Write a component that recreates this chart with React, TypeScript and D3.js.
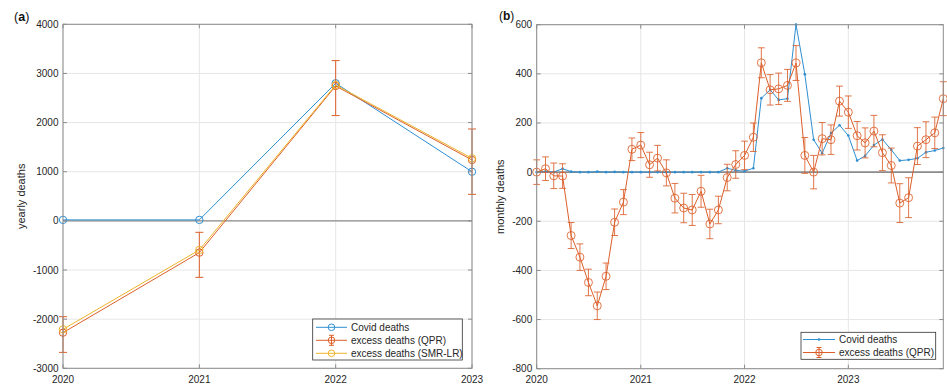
import * as d3 from 'd3'

// yearly values (panel a)
const years = [2020, 2021, 2022, 2023]
const covidYearly = [20, 20, 2800, 1000]
const qprYearly = [-2275, -646, 2745, 1239]
const qprYearlyLow = [-2676, -1149, 2142, 540]
const qprYearlyHigh = [-1950, -233, 3261, 1870]
const smrYearly = [-2207, -592, 2765, 1273]

// monthly values (panel b), Jan 2020 .. Dec 2023
const covidMonthly = [
  0, 3, 0, 14, 2, 0, 0, 2, 0, 1, 0, 0,
  0, 0, 0, 0, 0, 0, 0, 0, 0, 0, 16, 7,
  4, 16, 301, 335, 294, 299, 601, 398, 132, 77, 159, 191,
  149, 47, 66, 110, 133, 91, 47, 50, 56, 81, 88, 98,
]
const qprMonthly = [
  0, 14, -15, -16, -258, -346, -449, -544, -424, -204, -122, 93,
  110, 30, 57, -3, -106, -146, -154, -78, -211, -154, -22, 31,
  68, 142, 445, 335, 339, 353, 444, 68, 0, 136, 132, 289,
  244, 148, 119, 167, 79, 27, -126, -104, 106, 132, 160, 299,
]
const qprMonthlyErr = [
  50, 48, 52, 50, 53, 54, 54, 56, 54, 54, 51, 46,
  51, 51, 52, 53, 60, 60, 63, 65, 60, 56, 54, 56,
  58, 58, 61, 62, 64, 65, 71, 73, 68, 66, 60, 61,
  66, 58, 61, 64, 73, 71, 79, 81, 75, 73, 64, 69,
]
const months = d3.range(qprMonthly.length).map((i) => new Date(2020, i, 1))

const yearTicks = [2020, 2021, 2022, 2023]
const yearlyTicks = d3.range(-3000, 4001, 1000)
const monthlyTicks = d3.range(-800, 601, 200)

const BLUE = '#2f8fd2'
const ORANGE = '#dc5f2a'
const YELLOW = '#eeb42a'
const AXIS = '#8c8c8c'
const TEXT = '#262626'
const GRID = '#e6e6e6'
const FONT = 'Arial, "Liberation Sans", Helvetica, sans-serif'

type Box = { x0: number; x1: number; y0: number; y1: number }

const Grid = ({ b, yScale, yt, xs }: { b: Box; yScale: d3.ScaleLinear<number, number>; yt: number[]; xs: number[] }) => (
  <g>
    {xs.map((x, i) => (
      <line key={'gx' + i} x1={x} x2={x} y1={b.y0} y2={b.y1} stroke={GRID} />
    ))}
    {yt.map((t) => (
      <line key={'gy' + t} x1={b.x0} x2={b.x1} y1={yScale(t)} y2={yScale(t)} stroke={GRID} />
    ))}
  </g>
)

const Axes = ({ b, yScale, yt, xs, labels }: { b: Box; yScale: d3.ScaleLinear<number, number>; yt: number[]; xs: number[]; labels: string[] }) => (
  <g fontFamily={FONT} fontSize={10} fill={TEXT}>
    <rect x={b.x0} y={b.y0} width={b.x1 - b.x0} height={b.y1 - b.y0} fill="none" stroke={AXIS} />
    {yt.map((t) => (
      <g key={'ty' + t}>
        <line x1={b.x0} x2={b.x0 + 4} y1={yScale(t)} y2={yScale(t)} stroke={AXIS} />
        <line x1={b.x1} x2={b.x1 - 4} y1={yScale(t)} y2={yScale(t)} stroke={AXIS} />
        <text x={b.x0 - 4.5} y={yScale(t)} dy="0.35em" textAnchor="end">
          {t}
        </text>
      </g>
    ))}
    {xs.map((x, i) => (
      <g key={'tx' + i}>
        <line x1={x} x2={x} y1={b.y1} y2={b.y1 - 4} stroke={AXIS} />
        <line x1={x} x2={x} y1={b.y0} y2={b.y0 + 4} stroke={AXIS} />
        <text x={x} y={383} textAnchor="middle">
          {labels[i]}
        </text>
      </g>
    ))}
  </g>
)

const PanelA = () => {
  const b: Box = { x0: 63, x1: 472, y0: 24.3, y1: 368.3 }
  const x = d3.scaleLinear().domain([2020, 2023]).range([b.x0, b.x1])
  const y = d3.scaleLinear().domain([-3000, 4000]).range([b.y1, b.y0])
  const line = d3
    .line<number>()
    .x((_, i) => x(years[i]))
    .y((d) => y(d))
  const xs = yearTicks.map((t) => x(t))
  const leg = { x: 312.7, y: 319, w: 149.6, h: 41 }
  const midY = (b.y0 + b.y1) / 2
  return (
    <g>
      <Grid b={b} yScale={y} yt={yearlyTicks} xs={xs} />
      <line x1={b.x0} x2={b.x1} y1={y(0)} y2={y(0)} stroke={AXIS} strokeWidth={1.2} />
      <path d={line(covidYearly) ?? ''} fill="none" stroke={BLUE} strokeWidth={1} />
      {covidYearly.map((v, i) => (
        <circle key={'c' + i} cx={x(years[i])} cy={y(v)} r={3.7} fill="none" stroke={BLUE} />
      ))}
      <path d={line(qprYearly) ?? ''} fill="none" stroke={ORANGE} strokeWidth={1} />
      {qprYearly.map((v, i) => {
        const cx = x(years[i])
        return (
          <g key={'q' + i} stroke={ORANGE} fill="none">
            <line x1={cx} x2={cx} y1={y(qprYearlyLow[i])} y2={y(qprYearlyHigh[i])} />
            <line x1={cx - 4} x2={cx + 4} y1={y(qprYearlyLow[i])} y2={y(qprYearlyLow[i])} />
            <line x1={cx - 4} x2={cx + 4} y1={y(qprYearlyHigh[i])} y2={y(qprYearlyHigh[i])} />
            <circle cx={cx} cy={y(v)} r={3.7} />
          </g>
        )
      })}
      <path d={line(smrYearly) ?? ''} fill="none" stroke={YELLOW} strokeWidth={1} />
      {smrYearly.map((v, i) => (
        <circle key={'s' + i} cx={x(years[i])} cy={y(v)} r={3.7} fill="none" stroke={YELLOW} />
      ))}
      <Axes b={b} yScale={y} yt={yearlyTicks} xs={xs} labels={yearTicks.map(String)} />
      <text x={25} y={midY} transform={`rotate(-90 25 ${midY})`} textAnchor="middle" fontFamily={FONT} fontSize={11} fill={TEXT}>
        yearly deaths
      </text>
      <text x={14} y={21} fontFamily={FONT} fontSize={12.5} fill="#111">
        (<tspan fontWeight="bold">a</tspan>)
      </text>
      <g fontFamily={FONT} fontSize={10} fill={TEXT}>
        <rect x={leg.x} y={leg.y} width={leg.w} height={leg.h} fill="#fff" stroke="#303030" strokeWidth={0.8} />
        {[
          { c: BLUE, t: 'Covid deaths', err: false },
          { c: ORANGE, t: 'excess deaths (QPR)', err: true },
          { c: YELLOW, t: 'excess deaths (SMR-LR)', err: false },
        ].map((e, i) => {
          const ly = leg.y + 8.3 + i * 13
          return (
            <g key={e.t}>
              <line x1={316} x2={347} y1={ly} y2={ly} stroke={e.c} />
              <circle cx={331.5} cy={ly} r={3.3} fill="none" stroke={e.c} />
              {e.err && (
                <g stroke={e.c}>
                  <line x1={331.5} x2={331.5} y1={ly - 5} y2={ly + 5} />
                  <line x1={329} x2={334} y1={ly - 5} y2={ly - 5} />
                  <line x1={329} x2={334} y1={ly + 5} y2={ly + 5} />
                </g>
              )}
              <text x={351} y={ly} dy="0.35em">
                {e.t}
              </text>
            </g>
          )
        })}
      </g>
    </g>
  )
}

const PanelB = () => {
  const b: Box = { x0: 536.7, x1: 943.3, y0: 24.7, y1: 368.7 }
  const x = d3.scaleTime().domain([months[0], months[months.length - 1]]).range([b.x0, b.x1])
  const y = d3.scaleLinear().domain([-800, 600]).range([b.y1, b.y0])
  const line = d3
    .line<number>()
    .x((_, i) => x(months[i]))
    .y((d) => y(d))
  const xs = yearTicks.map((t) => x(new Date(t, 0, 1)))
  const leg = { x: 801, y: 332.3, w: 134.7, h: 27 }
  const midY = (b.y0 + b.y1) / 2
  return (
    <g>
      <Grid b={b} yScale={y} yt={monthlyTicks} xs={xs} />
      <line x1={b.x0} x2={b.x1} y1={y(0)} y2={y(0)} stroke={AXIS} strokeWidth={1.6} />
      <path d={line(covidMonthly) ?? ''} fill="none" stroke={BLUE} strokeWidth={1} />
      {covidMonthly.map((v, i) => (
        <circle key={'c' + i} cx={x(months[i])} cy={y(v)} r={1.3} fill={BLUE} />
      ))}
      <path d={line(qprMonthly) ?? ''} fill="none" stroke={ORANGE} strokeWidth={1} />
      {qprMonthly.map((v, i) => {
        const cx = x(months[i])
        const lo = y(v - qprMonthlyErr[i])
        const hi = y(v + qprMonthlyErr[i])
        return (
          <g key={'q' + i} stroke={ORANGE} fill="none" strokeOpacity={0.85}>
            <line x1={cx} x2={cx} y1={lo} y2={hi} />
            <line x1={cx - 3.4} x2={cx + 3.4} y1={lo} y2={lo} />
            <line x1={cx - 3.4} x2={cx + 3.4} y1={hi} y2={hi} />
            <circle cx={cx} cy={y(v)} r={4} />
          </g>
        )
      })}
      <Axes b={b} yScale={y} yt={monthlyTicks} xs={xs} labels={yearTicks.map(String)} />
      <text x={504} y={midY} transform={`rotate(-90 504 ${midY})`} textAnchor="middle" fontFamily={FONT} fontSize={11} fill={TEXT}>
        monthly deaths
      </text>
      <text x={499} y={20} fontFamily={FONT} fontSize={12} fill="#111">
        (<tspan fontWeight="bold">b</tspan>)
      </text>
      <g fontFamily={FONT} fontSize={10} fill={TEXT}>
        <rect x={leg.x} y={leg.y} width={leg.w} height={leg.h} fill="#fff" stroke="#303030" strokeWidth={0.8} />
        {[
          { c: BLUE, t: 'Covid deaths', err: false },
          { c: ORANGE, t: 'excess deaths (QPR)', err: true },
        ].map((e, i) => {
          const ly = leg.y + 7.2 + i * 13
          return (
            <g key={e.t}>
              <line x1={803} x2={835} y1={ly} y2={ly} stroke={e.c} />
              {e.err ? (
                <g stroke={e.c} fill="none">
                  <circle cx={819} cy={ly} r={3.3} />
                  <line x1={819} x2={819} y1={ly - 5} y2={ly + 5} />
                  <line x1={816.5} x2={821.5} y1={ly - 5} y2={ly - 5} />
                  <line x1={816.5} x2={821.5} y1={ly + 5} y2={ly + 5} />
                </g>
              ) : (
                <circle cx={819} cy={ly} r={1.3} fill={e.c} />
              )}
              <text x={839} y={ly} dy="0.35em">
                {e.t}
              </text>
            </g>
          )
        })}
      </g>
    </g>
  )
}

export default function App() {
  return (
    <div style={{ position: 'absolute', left: 0, top: 0 }}>
      <svg width={947} height={384} style={{ display: 'block', background: '#fff' }}>
        <PanelA />
        <PanelB />
      </svg>
    </div>
  )
}
